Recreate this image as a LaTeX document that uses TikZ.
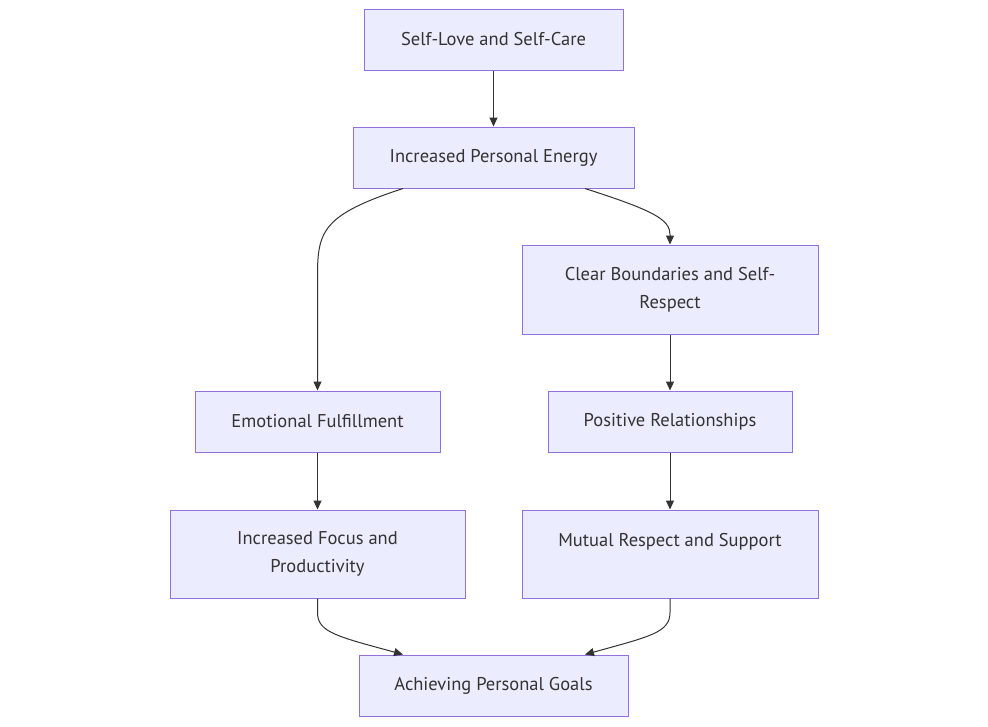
\documentclass[tikz,border=0pt]{standalone}
\usepackage{fontspec}
\setmainfont{PT Sans}
\usetikzlibrary{arrows.meta,calc}
\definecolor{nfill}{HTML}{ECECFF}
\definecolor{nline}{HTML}{9370DB}
\definecolor{eline}{HTML}{333333}
\begin{document}
\begin{tikzpicture}[x=1pt,y=-1pt,
  box/.style={draw=nline,fill=nfill,line width=1pt,inner sep=0pt,align=center,
    text=eline,font=\fontsize{18.5}{28}\selectfont},
  conn/.style={draw=eline,line width=1pt,-{Triangle[length=9pt,width=8pt]}}]
\useasboundingbox (0,0) rectangle (988,726);
\fill[white] (0,0) rectangle (988,726);
\node[box,minimum width=259pt,minimum height=61pt] (A) at (493.5,39.5) {Self-Love and Self-Care};
\node[box,minimum width=281pt,minimum height=61pt] (B) at (493.5,157.5) {Increased Personal Energy};
\node[box,minimum width=296pt,minimum height=89pt] (C) at (670,289.5) {Clear Boundaries and Self-\\Respect};
\node[box,minimum width=245pt,minimum height=61pt] (D) at (317.5,421.5) {Emotional Fulfillment};
\node[box,minimum width=244pt,minimum height=61pt] (E) at (670,421.5) {Positive Relationships};
\node[box,minimum width=295pt,minimum height=88pt] (F) at (317.5,554) {Increased Focus and\\Productivity};
\node[box,minimum width=296pt,minimum height=88pt] (G) at (670,554) {Mutual Respect and Support\\\mbox{}};
\node[box,minimum width=269pt,minimum height=61pt] (H) at (493.5,685.5) {Achieving Personal Goals};
\draw[conn] (A) -- (B);
\draw[conn] ($(B.south)+(-90.5,0)$) .. controls ($(B.south)+(-170,26)$) and ($(D.north)+(0,-160)$) .. ($(D.north)+(0,-115)$) -- (D.north);
\draw[conn] ($(B.south)+(91.5,0)$) .. controls ($(B.south)+(160,22)$) and ($(C.north)+(0,-25)$) .. ($(C.north)+(0,-10)$) -- (C.north);
\draw[conn] (C) -- (E);
\draw[conn] (D) -- (F);
\draw[conn] (E) -- (G);
\draw[conn] (F.south) -- ($(F.south)+(0,14)$) .. controls ($(F.south)+(0,34)$) and ($(F.south)+(20,38)$) .. ($(H.north)+(-90.5,0)$);
\draw[conn] (G.south) -- ($(G.south)+(0,14)$) .. controls ($(G.south)+(0,34)$) and ($(G.south)+(-20,38)$) .. ($(H.north)+(91.5,0)$);
\end{tikzpicture}
\end{document}
